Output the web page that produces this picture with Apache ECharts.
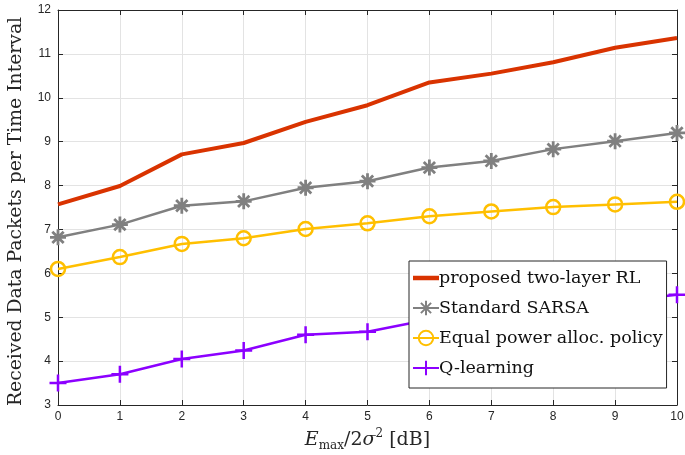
<!DOCTYPE html>
<html>
<head>
<meta charset="utf-8">
<script src="https://cdn.jsdelivr.net/npm/echarts@6/dist/echarts.min.js"></script>
<style>html,body{margin:0;padding:0;background:#fff;}#c{width:685px;height:455px;}</style>
</head>
<body>
<div id="c"></div>
<script>
var xValues = [0, 1, 2, 3, 4, 5, 6, 7, 8, 9, 10];
var proposedRL = [7.57, 7.99, 8.71, 8.97, 9.45, 9.83, 10.35, 10.55, 10.81, 11.14, 11.36];
var sarsa = [6.82, 7.11, 7.54, 7.64, 7.95, 8.10, 8.41, 8.56, 8.83, 9.01, 9.20];
var equalPower = [6.10, 6.37, 6.67, 6.80, 7.01, 7.14, 7.30, 7.41, 7.51, 7.57, 7.63];
var qLearning = [3.50, 3.70, 4.05, 4.24, 4.60, 4.67, 4.95, 5.08, 5.22, 5.36, 5.51];
var seriesNames = ['proposed two-layer RL', 'Standard SARSA', 'Equal power alloc. policy', 'Q-learning'];
var yTicks = [3, 4, 5, 6, 7, 8, 9, 10, 11, 12];

function pairs(arr) { return arr.map(function (v, i) { return [xValues[i], v]; }); }

var asterisk = 'path://M0,-1L0,1M-1,0L1,0M-0.7071,-0.7071L0.7071,0.7071M-0.7071,0.7071L0.7071,-0.7071';
var plus = 'path://M0,-1L0,1M-1,0L1,0';
var axisColor = '#262626';
var serif = '"DejaVu Serif", "Liberation Serif", serif';
var sans = '"Liberation Sans", Arial, sans-serif';

function axisBase() {
  return {
    axisLine: { show: true, onZero: false, lineStyle: { color: axisColor, width: 1 } },
    axisTick: { show: true, inside: true, length: 5, lineStyle: { color: axisColor } }
  };
}

var chart = echarts.init(document.getElementById('c'), null, { renderer: 'canvas' });
chart.setOption({
  animation: false,
  backgroundColor: '#fff',
  grid: { left: 58, right: 8, top: 10, bottom: 50, containLabel: false, outerBoundsMode: 'none' },
  xAxis: [Object.assign(axisBase(), {
    type: 'value', min: 0, max: 10, interval: 1,
    name: '{e|E}{sub|max}{n|/2}{s|σ}{sup|2}{n| [dB]}',
    nameLocation: 'middle', nameGap: 23,
    nameTextStyle: {
      fontFamily: serif, fontSize: 19, color: axisColor,
      rich: {
        e: { fontFamily: serif, fontSize: 19, fontStyle: 'italic', color: axisColor },
        n: { fontFamily: serif, fontSize: 19, color: axisColor },
        s: { fontFamily: serif, fontSize: 19, fontStyle: 'italic', color: axisColor },
        sub: { fontFamily: serif, fontSize: 12, color: axisColor, verticalAlign: 'bottom', lineHeight: 24 },
        sup: { fontFamily: serif, fontSize: 12, color: axisColor, verticalAlign: 'top', lineHeight: 24 }
      }
    },
    axisLabel: { color: axisColor, fontFamily: sans, fontSize: 12, margin: 6 },
    splitLine: { show: true, lineStyle: { color: '#e3e3e3', width: 1 } }
  }), Object.assign(axisBase(), {
    type: 'value', min: 0, max: 10, interval: 1, position: 'top',
    axisLabel: { show: false }, splitLine: { show: false }
  })],
  yAxis: [Object.assign(axisBase(), {
    type: 'value', min: 3, max: 12, interval: 1,
    name: 'Received Data Packets per Time Interval',
    nameLocation: 'middle', nameGap: 32,
    nameTextStyle: { fontFamily: serif, fontSize: 18.8, color: axisColor, padding: [0, 8, 0, 0] },
    axisLabel: { color: axisColor, fontFamily: sans, fontSize: 12, margin: 7,
      formatter: function (v) { return yTicks.indexOf(v) >= 0 ? String(v) : ''; } },
    splitLine: { show: true, lineStyle: { color: '#e3e3e3', width: 1 } }
  }), Object.assign(axisBase(), {
    type: 'value', min: 3, max: 12, interval: 1, position: 'right',
    axisLabel: { show: false }, splitLine: { show: false }
  })],
  legend: {
    orient: 'vertical', left: 409, top: 261,
    backgroundColor: '#fff', borderColor: axisColor, borderWidth: 1, borderRadius: 0,
    padding: [7, 4, 10, 3], itemGap: 10, itemWidth: 26, itemHeight: 18,
    textStyle: { fontFamily: serif, fontSize: 17.5, color: '#111', lineHeight: 20, padding: [0, 0, 0, -5] },
    data: [
      { name: seriesNames[0], icon: 'path://M0,0L26,0L26,4.5L0,4.5Z' },
      seriesNames[1], seriesNames[2], seriesNames[3]
    ]
  },
  series: [{
    name: seriesNames[0], type: 'line', data: pairs(proposedRL),
    symbol: 'none', lineStyle: { color: '#d93300', width: 4 }, itemStyle: { color: '#d93300' }, z: 5
  }, {
    name: seriesNames[1], type: 'line', data: pairs(sarsa),
    symbol: asterisk, symbolSize: 16, showAllSymbol: true,
    lineStyle: { color: '#808080', width: 2.5 },
    itemStyle: { color: '#808080', borderColor: '#808080', borderWidth: 2.8 }, z: 4
  }, {
    name: seriesNames[2], type: 'line', data: pairs(equalPower),
    symbol: 'circle', symbolSize: 14, showAllSymbol: true,
    lineStyle: { color: '#ffbf00', width: 2.5 },
    itemStyle: { color: 'rgba(255,255,255,0)', borderColor: '#ffbf00', borderWidth: 2.5 }, z: 3
  }, {
    name: seriesNames[3], type: 'line', data: pairs(qLearning),
    symbol: plus, symbolSize: 17, showAllSymbol: true,
    lineStyle: { color: '#8c00ff', width: 2.5 },
    itemStyle: { color: '#8c00ff', borderColor: '#8c00ff', borderWidth: 2.5 }, z: 2
  }]
});
</script>
</body>
</html>
